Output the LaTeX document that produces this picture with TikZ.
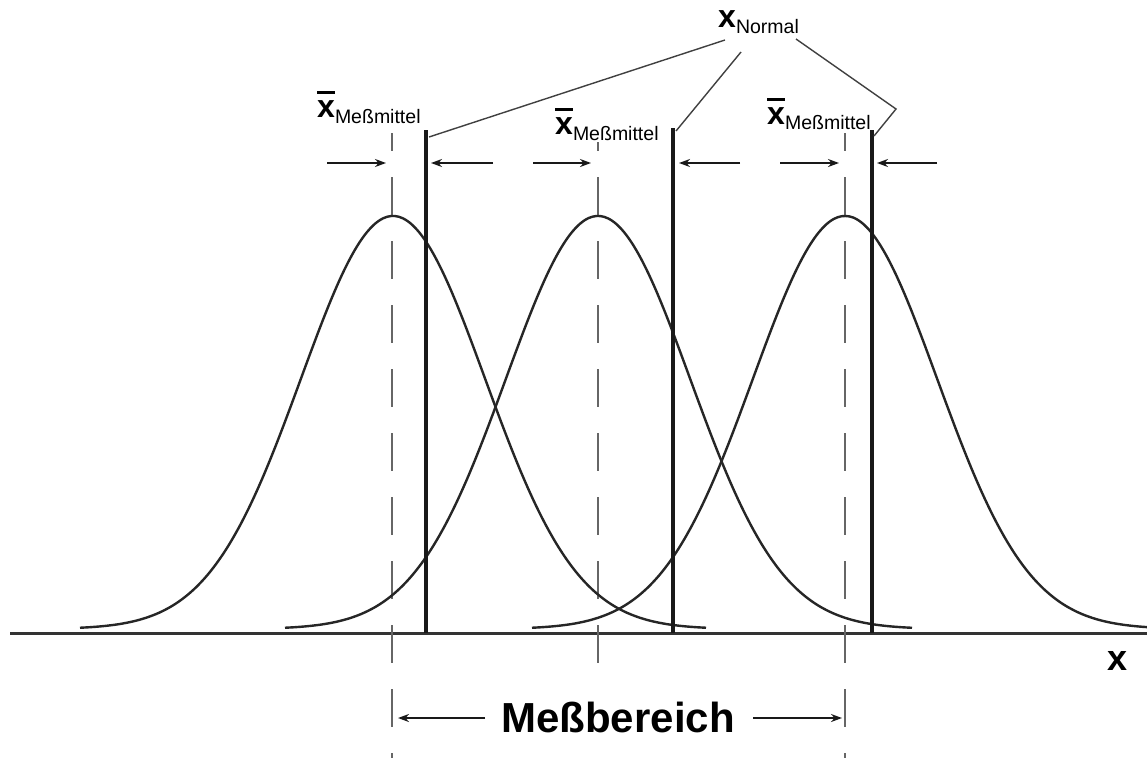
\documentclass[tikz,border=0pt]{standalone}
\usepackage{fontspec}
\setmainfont{Liberation Sans}
\usetikzlibrary{arrows.meta}
\newcommand\xbarx{\setbox0\hbox{\bfseries x}\vbox{\hrule height 3pt width \wd0\kern 6pt\box0}}
\begin{document}
\begin{tikzpicture}[x=1pt,y=-1pt,
  curve/.style={line width=2.4pt, draw=black!85},
  solidv/.style={line width=3.4pt, draw=black!90},
  dashv/.style={line width=1.3pt, draw=black!60, dash pattern=on 38pt off 26pt},
  leader/.style={line width=1.4pt, draw=black!75},
  arr/.style={-{Stealth[length=11pt,width=8pt]}, line width=1.8pt, draw=black!90},
  axisline/.style={line width=3pt, draw=black!80},
  lbl/.style={inner sep=0pt, anchor=base west},
  bigtxt/.style={inner sep=0pt, font=\fontsize{42}{42}\selectfont\bfseries}]
\useasboundingbox (0,0) rectangle (1147,758);
\fill[white] (0,0) rectangle (1147,758);

% axis
\coordinate (axL) at (10,633);
\coordinate (axR) at (1147,633);
\draw[axisline] (axL) -- (axR);

% dashed mean lines
\coordinate (d1t) at (392,133); \coordinate (d1b) at (392,758);
\coordinate (d2t) at (598,142); \coordinate (d2b) at (598,666);
\coordinate (d3t) at (845,133); \coordinate (d3b) at (845,758);
\draw[dashv, dash phase=20pt] (d1t) -- (d1b);
\draw[dashv, dash phase=29pt] (d2t) -- (d2b);
\draw[dashv, dash phase=20pt] (d3t) -- (d3b);

% gaussian curves
\draw[curve] plot[domain=80:706, samples=160, smooth] (\x, {629-413*exp(-0.5*((\x-393)/92)^2)});
\draw[curve] plot[domain=285:912, samples=160, smooth] (\x, {629-413*exp(-0.5*((\x-598)/92)^2)});
\draw[curve] plot[domain=532:1147, samples=160, smooth] (\x, {629-413*exp(-0.5*((\x-845)/92)^2)});

% solid normal lines
\coordinate (s1t) at (426,130); \coordinate (s1b) at (426,633);
\coordinate (s2t) at (673,128); \coordinate (s2b) at (673,633);
\coordinate (s3t) at (872,130); \coordinate (s3b) at (872,633);
\draw[solidv] (s1t) -- (s1b);
\draw[solidv] (s2t) -- (s2b);
\draw[solidv] (s3t) -- (s3b);

% labels
\node[lbl] (m1) at (317,117) {\fontsize{32}{32}\selectfont\xbarx\raisebox{-6pt}{\fontsize{19.5}{20}\selectfont Meßmittel}};
\node[lbl] (m2) at (555,134) {\fontsize{32}{32}\selectfont\xbarx\raisebox{-6pt}{\fontsize{19.5}{20}\selectfont Meßmittel}};
\node[lbl] (m3) at (767,124) {\fontsize{32}{32}\selectfont\xbarx\raisebox{-5pt}{\fontsize{19.5}{20}\selectfont Meßmittel}};
\node[lbl] (xn) at (718,27) {{\fontsize{32}{32}\selectfont\bfseries x}\raisebox{-6pt}{\fontsize{19.5}{20}\selectfont Normal}};

% leader lines
\coordinate (l1a) at (725,40);  \coordinate (l1b) at (429,137);
\coordinate (l2a) at (741,52);  \coordinate (l2b) at (676,131);
\coordinate (l3a) at (796,39);  \coordinate (l3k) at (896,109); \coordinate (l3b) at (874,136);
\draw[leader] (l1a) -- (l1b);
\draw[leader] (l2a) -- (l2b);
\draw[leader] (l3a) -- (l3k) -- (l3b);

% top arrows
\coordinate (a1s) at (327,163); \coordinate (a1e) at (386,163);
\coordinate (b1s) at (493,163); \coordinate (b1e) at (431,163);
\coordinate (a2s) at (533,163); \coordinate (a2e) at (591,163);
\coordinate (b2s) at (740,163); \coordinate (b2e) at (679,163);
\coordinate (a3s) at (780,163); \coordinate (a3e) at (839,163);
\coordinate (b3s) at (937,163); \coordinate (b3e) at (877,163);
\draw[arr] (a1s) -- (a1e);
\draw[arr] (b1s) -- (b1e);
\draw[arr] (a2s) -- (a2e);
\draw[arr] (b2s) -- (b2e);
\draw[arr] (a3s) -- (a3e);
\draw[arr] (b3s) -- (b3e);

% Messbereich
\node[bigtxt, anchor=base] (mb) at (618,732) {Meßbereich};
\coordinate (mbl) at (485,718); \coordinate (mble) at (398,718);
\coordinate (mbr) at (753,718); \coordinate (mbre) at (842,718);
\draw[arr] (mbl) -- (mble);
\draw[arr] (mbr) -- (mbre);

% axis label
\node[inner sep=0pt, anchor=base, font=\fontsize{36}{36}\selectfont\bfseries] (xl) at (1117,670) {x};
\end{tikzpicture}
\end{document}
